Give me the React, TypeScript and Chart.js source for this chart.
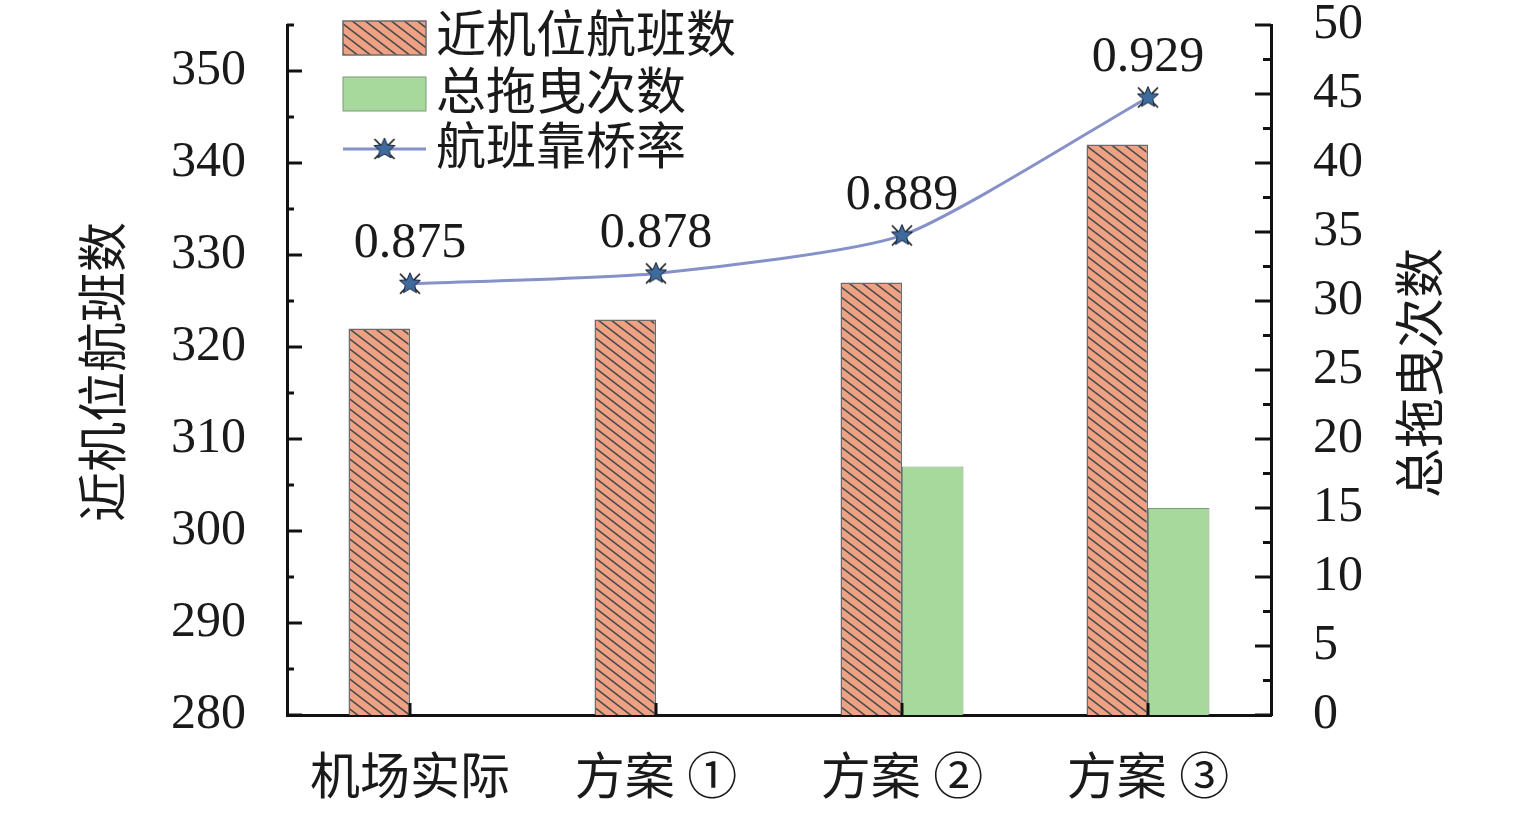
import React, { useEffect, useRef } from 'react';
import { Chart, registerables } from 'chart.js';

Chart.register(...registerables);

// ---------- data ----------
const categories = ['机场实际', '方案 ①', '方案 ②', '方案 ③'];
const nearStandFlights = [322, 323, 327, 342];
const totalTows = [0, 0, 18, 15];
const bridgeRate = [0.875, 0.878, 0.889, 0.929];
const leftTicks = [280, 290, 300, 310, 320, 330, 340, 350];
const rightTicks = [0, 5, 10, 15, 20, 25, 30, 35, 40, 45, 50];
const seriesNames = ['近机位航班数', '总拖曳次数', '航班靠桥率'];
const leftTitle = '近机位航班数';
const rightTitle = '总拖曳次数';

// ---------- style ----------
const NUM_FONT = "'Liberation Serif', 'Times New Roman', serif";
const CJK_FONT = "'Liberation Serif', 'Noto Sans CJK SC', serif";
const TEXT_COLOR = '#1a1a1a';
const ORANGE = '#EFA283';
const HATCH = '#4a4a4a';
const GREEN = '#A7D89C';
const LINE = '#8591C8';

function makeHatch(): CanvasPattern | string {
  const w = 13, h = 10;
  const c = document.createElement('canvas');
  c.width = w; c.height = h;
  const g = c.getContext('2d');
  if (!g) return ORANGE;
  g.fillStyle = ORANGE;
  g.fillRect(0, 0, w, h);
  g.strokeStyle = HATCH;
  g.lineWidth = 1.6;
  for (const [dx, dy] of [[0, 0], [w, 0], [-w, 0], [0, h], [0, -h]]) {
    g.beginPath();
    g.moveTo(dx, dy);
    g.lineTo(dx + w, dy + h);
    g.stroke();
  }
  const p = g.createPattern(c, 'repeat');
  return p || ORANGE;
}

function makeStar(): HTMLCanvasElement {
  const s = 28;
  const c = document.createElement('canvas');
  c.width = s; c.height = s;
  const g = c.getContext('2d')!;
  const cx = s / 2, cy = s / 2;
  g.strokeStyle = '#111';
  g.lineWidth = 1.6;
  g.beginPath();
  g.moveTo(4, 4); g.lineTo(s - 4, s - 4);
  g.moveTo(s - 4, 4); g.lineTo(4, s - 4);
  g.stroke();
  g.beginPath();
  for (let i = 0; i < 10; i++) {
    const r = i % 2 === 0 ? 11 : 5;
    const a = -Math.PI / 2 + (i * Math.PI) / 5;
    g.lineTo(cx + r * Math.cos(a), cy + r * Math.sin(a));
  }
  g.closePath();
  g.fillStyle = '#3f6a9c';
  g.fill();
  g.strokeStyle = '#15243a';
  g.lineWidth = 1;
  g.stroke();
  return c;
}

const decorPlugin = {
  id: 'decor',
  afterDraw(chart: any) {
    const ctx: CanvasRenderingContext2D = chart.ctx;
    const { left, right, top, bottom } = chart.chartArea;
    const ys = chart.scales.y;
    const y1s = chart.scales.y1;
    const xs = chart.scales.x;
    ctx.save();
    ctx.strokeStyle = '#111';
    ctx.lineWidth = 3;
    ctx.lineCap = 'butt';

    // left axis ticks (inward), major + minor
    const lStep = leftTicks[1] - leftTicks[0];
    for (let v = ys.min; v <= ys.max + 1e-9; v += lStep / 2) {
      const p = ys.getPixelForValue(v);
      const major = leftTicks.includes(Math.round(v));
      const len = major ? 15 : 7;
      ctx.beginPath();
      ctx.moveTo(left, p);
      ctx.lineTo(left + len, p);
      ctx.stroke();
    }
    // right axis ticks (inward)
    const rStep = rightTicks[1] - rightTicks[0];
    for (let v = y1s.min; v <= y1s.max + 1e-9; v += rStep / 2) {
      const p = y1s.getPixelForValue(v);
      const major = rightTicks.includes(v);
      const len = major ? 16 : 8;
      ctx.beginPath();
      ctx.moveTo(right, p);
      ctx.lineTo(right - len, p);
      ctx.stroke();
    }
    // x axis ticks at category centers
    categories.forEach((_, i) => {
      const px = xs.getPixelForValue(i);
      ctx.beginPath();
      ctx.moveTo(px, bottom);
      ctx.lineTo(px, bottom - 12);
      ctx.stroke();
    });

    // data labels above line points
    const lineMeta = chart.getDatasetMeta(2);
    ctx.fillStyle = TEXT_COLOR;
    ctx.font = `50px ${NUM_FONT}`;
    ctx.textAlign = 'center';
    ctx.textBaseline = 'middle';
    lineMeta.data.forEach((pt: any, i: number) => {
      ctx.fillText(bridgeRate[i].toFixed(3), pt.x, pt.y - 40);
    });

    // axis titles
    ctx.font = `50px ${CJK_FONT}`;
    const midY = (top + bottom) / 2;
    ctx.save();
    ctx.translate(left - 179, midY + 2);
    ctx.rotate(-Math.PI / 2);
    ctx.fillText(leftTitle, 0, 0);
    ctx.restore();
    ctx.save();
    ctx.translate(right + 154, midY + 3);
    ctx.rotate(-Math.PI / 2);
    ctx.fillText(rightTitle, 0, 0);
    ctx.restore();

    // legend
    const ds = chart.data.datasets;
    const bx = left + 56, bw = 83;
    ctx.textAlign = 'left';
    ctx.font = `50px ${CJK_FONT}`;
    // row 1
    ctx.fillStyle = ds[0].backgroundColor;
    ctx.fillRect(bx, top - 4, bw, 34);
    ctx.strokeStyle = '#6b6b6b';
    ctx.lineWidth = 1.5;
    ctx.strokeRect(bx, top - 4, bw, 34);
    ctx.fillStyle = TEXT_COLOR;
    ctx.fillText(seriesNames[0], bx + bw + 10, top + 14);
    // row 2
    ctx.fillStyle = GREEN;
    ctx.fillRect(bx, top + 52, bw, 34);
    ctx.strokeStyle = '#7d9a7d';
    ctx.lineWidth = 1;
    ctx.strokeRect(bx, top + 52, bw, 34);
    ctx.fillStyle = TEXT_COLOR;
    ctx.fillText(seriesNames[1], bx + bw + 10, top + 71);
    // row 3
    ctx.strokeStyle = LINE;
    ctx.lineWidth = 3;
    ctx.beginPath();
    ctx.moveTo(bx, top + 124);
    ctx.lineTo(bx + bw, top + 124);
    ctx.stroke();
    const star = ds[2].pointStyle as HTMLCanvasElement;
    ctx.drawImage(star, bx + bw / 2 - star.width / 2, top + 124 - star.height / 2);
    ctx.fillStyle = TEXT_COLOR;
    ctx.fillText(seriesNames[2], bx + bw + 10, top + 126);

    ctx.restore();
  },
};

export default function App() {
  const ref = useRef<HTMLCanvasElement | null>(null);

  useEffect(() => {
    if (!ref.current) return;
    const hatch = makeHatch();
    const star = makeStar();
    const chart = new Chart(ref.current, {
      type: 'bar',
      data: {
        labels: categories,
        datasets: [
          {
            type: 'bar',
            label: seriesNames[0],
            data: nearStandFlights,
            yAxisID: 'y',
            backgroundColor: hatch as any,
            borderColor: '#6b6b6b',
            borderWidth: 1.5,
            categoryPercentage: 0.5,
            barPercentage: 1.0,
            order: 2,
          },
          {
            type: 'bar',
            label: seriesNames[1],
            data: totalTows,
            yAxisID: 'y1',
            backgroundColor: GREEN,
            borderColor: '#7d9a7d',
            borderWidth: 1,
            categoryPercentage: 0.5,
            barPercentage: 1.0,
            order: 2,
          },
          {
            type: 'line',
            label: seriesNames[2],
            data: bridgeRate,
            yAxisID: 'y2',
            borderColor: LINE,
            borderWidth: 3,
            tension: 0.2,
            pointStyle: star as any,
            pointRadius: 14,
            fill: false,
            order: 0,
          } as any,
        ],
      },
      options: {
        responsive: false,
        animation: false,
        layout: { padding: { top: 25, left: 0, right: 0, bottom: 0 } },
        plugins: {
          legend: { display: false },
          tooltip: { enabled: false },
          title: { display: false },
        },
        scales: {
          x: {
            z: 1,
            grid: { display: false, drawTicks: false },
            border: { display: true, color: '#111', width: 3 },
            ticks: {
              color: TEXT_COLOR,
              font: { family: CJK_FONT, size: 50 },
              padding: 36,
              maxRotation: 0,
              autoSkip: false,
            },
            afterFit: (s: any) => {
              s.height = 102;
              s.paddingLeft = 0; s.paddingRight = 0; s.paddingTop = 0; s.paddingBottom = 0;
            },
          },
          y: {
            position: 'left',
            min: 280,
            max: 355,
            z: 1,
            grid: { display: false, drawTicks: false },
            border: { display: true, color: '#111', width: 3 },
            afterBuildTicks: (s: any) => { s.ticks = leftTicks.map((v) => ({ value: v })); },
            ticks: {
              color: TEXT_COLOR,
              font: { family: NUM_FONT, size: 50 },
              padding: 41,
            },
            afterFit: (s: any) => {
              s.width = 287;
              s.paddingLeft = 0; s.paddingRight = 0; s.paddingTop = 0; s.paddingBottom = 0;
            },
          },
          y1: {
            position: 'right',
            min: 0,
            max: 50,
            z: 1,
            grid: { display: false, drawTicks: false },
            border: { display: true, color: '#111', width: 3 },
            afterBuildTicks: (s: any) => { s.ticks = rightTicks.map((v) => ({ value: v })); },
            ticks: {
              color: TEXT_COLOR,
              font: { family: NUM_FONT, size: 50 },
              padding: 42,
            },
            afterFit: (s: any) => {
              s.width = 264;
              s.paddingLeft = 0; s.paddingRight = 0; s.paddingTop = 0; s.paddingBottom = 0;
            },
          },
          y2: {
            display: false,
            min: 0.75,
            max: 0.95,
          },
        },
      },
      plugins: [decorPlugin],
    });
    return () => chart.destroy();
  }, []);

  return (
    <div style={{ position: 'absolute', left: 0, top: 0, width: 1535, height: 817, background: '#fff' }}>
      <canvas ref={ref} width={1535} height={817} style={{ display: 'block' }} />
    </div>
  );
}
